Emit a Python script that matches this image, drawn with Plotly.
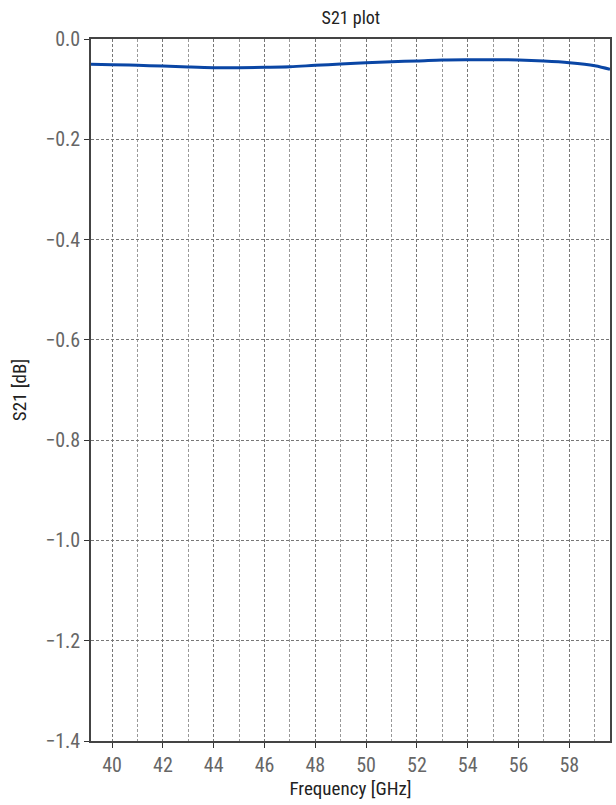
import plotly.graph_objects as go

freq_ghz = [39.17, 40, 41, 42, 43, 44, 45, 46, 47, 48, 49, 50, 51, 52, 53, 54, 55, 56, 57, 58, 59, 59.6]
s21_db = [-0.0505, -0.0513, -0.0525, -0.0539, -0.0559, -0.0573, -0.0573, -0.0565, -0.0553, -0.0525,
          -0.0499, -0.0473, -0.0453, -0.0439, -0.0419, -0.0413, -0.0413, -0.0419, -0.0439, -0.0473,
          -0.0533, -0.0605]
x_ticks = [40, 42, 44, 46, 48, 50, 52, 54, 56, 58]
y_ticks = [0.0, -0.2, -0.4, -0.6, -0.8, -1.0, -1.2, -1.4]

FONT = "Liberation Sans Narrow, Roboto Condensed, Arial Narrow, sans-serif"

fig = go.Figure()
fig.add_trace(go.Scatter(
    x=freq_ghz, y=s21_db, mode="lines",
    line=dict(color="#0a46a5", width=3, shape="spline"),
    showlegend=False,
))

fig.update_layout(
    width=616, height=805,
    margin=dict(l=91, r=6, t=39, b=64),
    paper_bgcolor="white", plot_bgcolor="white",
    font=dict(family=FONT, size=18, color="#222"),
    title=dict(text="S21 plot", x=0.5696, xanchor="center", xref="container",
               y=1 - 18 / 805, yref="container", yanchor="middle",
               font=dict(family=FONT, size=18, color="#222")),
)

fig.update_xaxes(
    range=[39.17, 59.6], automargin=False,
    tickvals=x_ticks, ticktext=[str(v) for v in x_ticks],
    ticks="outside", ticklen=5, tickwidth=1.2, tickcolor="#333",
    tickfont=dict(family=FONT, size=20, color="#666"),
    showline=True, linecolor="#444", linewidth=1.5, mirror=True,
    showgrid=True, gridcolor="#777", griddash="3px,2px", gridwidth=1,
    minor=dict(dtick=1, tick0=39, showgrid=True, gridcolor="#999", griddash="3px,2px", gridwidth=1),
    zeroline=False,
    title=dict(text="Frequency [GHz]", font=dict(family=FONT, size=19, color="#222"), standoff=0),
)
fig.update_yaxes(
    range=[-1.4, 0.0], automargin=False,
    tickvals=y_ticks, ticktext=["0.0" if v == 0 else "\u2212" + f"{abs(v):.1f}" for v in y_ticks],
    ticks="outside", ticklen=5, tickwidth=1.2, tickcolor="#333",
    tickfont=dict(family=FONT, size=20, color="#666"),
    showline=True, linecolor="#444", linewidth=1.5, mirror=True,
    showgrid=True, gridcolor="#777", griddash="3px,2px", gridwidth=1,
    zeroline=False,
    title=dict(text="S21 [dB]", font=dict(family=FONT, size=19, color="#222"), standoff=14),
)

fig.write_html(
    "out.html",
    config={"displayModeBar": False},
    post_script="document.body.style.margin='0';document.body.style.overflow='hidden';",
)
